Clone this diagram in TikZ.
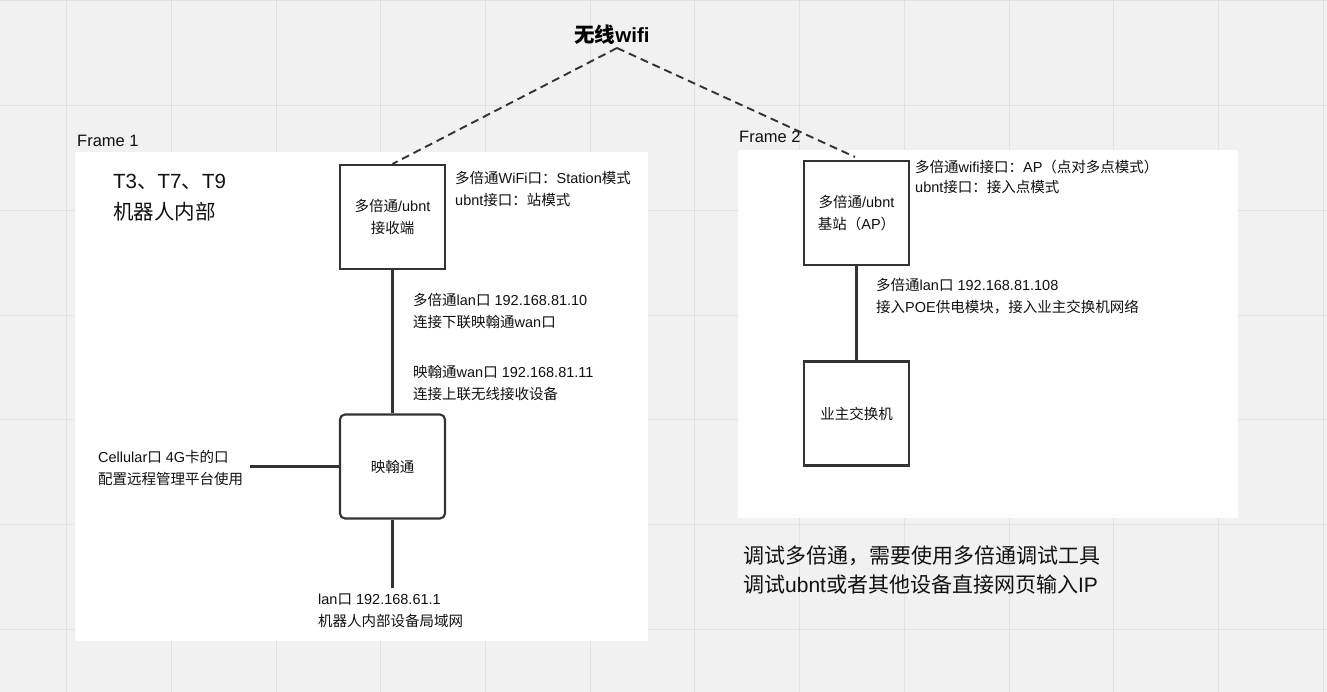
\documentclass[tikz,border=0pt]{standalone}
\usepackage{fontspec}
\setmainfont{Liberation Sans}
\newfontfamily\cjkfont{Noto Sans CJK SC}
\XeTeXinterchartokenstate=1
\newXeTeXintercharclass\cjkcls
\newcount\cjkcnt
\def\setcjkrange#1#2{\cjkcnt=#1\relax\loop\XeTeXcharclass\cjkcnt=\cjkcls\advance\cjkcnt by 1\relax\ifnum\cjkcnt<#2\relax\repeat}
\setcjkrange{"3000}{"3040}
\setcjkrange{"4E00}{"A000}
\setcjkrange{"FF00}{"FF61}
\XeTeXinterchartoks 0 \cjkcls = {\cjkfont}
\XeTeXinterchartoks 4095 \cjkcls = {\cjkfont}
\XeTeXinterchartoks \cjkcls 0 = {\rmfamily}
\XeTeXinterchartoks \cjkcls 4095 = {\rmfamily}
\definecolor{bgc}{HTML}{F1F1F1}
\definecolor{gridc}{HTML}{E2E2E2}
\definecolor{linec}{HTML}{333333}
\definecolor{txtc}{HTML}{111111}
\begin{document}
\begin{tikzpicture}[x=1pt,y=-1pt,
  box/.style={draw=linec, line width=2.1pt, fill=white, minimum width=105pt, minimum height=104pt,
    inner sep=0pt, align=center, text=txtc, font=\fontsize{14.5}{22}\selectfont},
  lbl/.style={anchor=west, align=left, inner sep=0pt, text=txtc, font=\fontsize{14.5}{22}\selectfont},
  biglbl/.style={anchor=west, align=left, inner sep=0pt, text=txtc, font=\fontsize{21}{29}\selectfont},
  framelbl/.style={anchor=west, inner sep=0pt, text=txtc, font=\fontsize{16.5}{20}\selectfont},
  conn/.style={draw=linec, line width=2.1pt},
  wl/.style={draw=linec, line width=1.9pt, dash pattern=on 8pt off 5pt},
  framebox/.style={fill=white, draw=none, inner sep=0pt, anchor=north west}]
\useasboundingbox (0,0) rectangle (1327,692);
\fill[bgc] (0,0) rectangle (1327,692);
\foreach \i in {0,...,12} {\draw[gridc, line width=1pt] ({66.7+104.7*\i},0) -- ({66.7+104.7*\i},692);}
\foreach \j in {0,...,6} {\draw[gridc, line width=1pt] (0,{1+104.67*\j}) -- (1327,{1+104.67*\j});}

% frames
\node[framebox, minimum width=573pt, minimum height=489pt] (frame1) at (75,152) {};
\node[framebox, minimum width=500pt, minimum height=368pt] (frame2) at (738,150) {};
\node[framelbl] (f1lbl) at (77,141) {Frame 1};
\node[framelbl] (f2lbl) at (739,137) {Frame 2};

% title
\node[inner sep=0pt, text=black, font=\fontsize{20.5}{24}\selectfont\bfseries] (wifi) at (612,35) {无线wifi};
\coordinate (apex) at (617,48);

% nodes
\node[box] (ubnt1) at (392.5,217) {多倍通/ubnt\\接收端};
\node[box, rounded corners=5pt] (yht) at (392.5,466.5) {映翰通};
\node[box] (ubnt2) at (856.5,213) {多倍通/ubnt\\基站（AP）};
\node[box] (sw) at (856.5,413.5) {业主交换机};

\coordinate (cell) at (250,466.5);
\coordinate (lanend) at (392.5,588);
\coordinate (ap2) at (855,157);

% connectors
\draw[conn] (ubnt1) -- (yht);
\draw[conn] (cell) -- (yht.west);
\draw[conn] (yht) -- (lanend);
\draw[conn] (ubnt2) -- (sw);
\draw[wl] (apex) -- (ubnt1.north);
\draw[wl] (apex) -- (ap2);

% labels
\node[biglbl, font=\fontsize{20.5}{31}\selectfont] (tlbl) at (113,198) {T3、T7、T9\\机器人内部};
\node[lbl] (l1) at (455,189) {多倍通WiFi口：Station模式\\ubnt接口：站模式};
\node[lbl] (l2) at (413,311) {多倍通lan口 192.168.81.10\\连接下联映翰通wan口};
\node[lbl] (l3) at (413,383.5) {映翰通wan口 192.168.81.11\\连接上联无线接收设备};
\node[lbl] (l4) at (98,467.5) {Cellular口 4G卡的口\\配置远程管理平台使用};
\node[lbl] (l5) at (318,611) {lan口 192.168.61.1\\机器人内部设备局域网};
\node[lbl, font=\fontsize{14.5}{20.5}\selectfont] (l6) at (915,177) {多倍通wifi接口：AP（点对多点模式）\\ubnt接口：接入点模式};
\node[lbl] (l7) at (876,296) {多倍通lan口 192.168.81.108\\接入POE供电模块，接入业主交换机网络};
\node[biglbl] (note) at (743,569.5) {调试多倍通，需要使用多倍通调试工具\\调试ubnt或者其他设备直接网页输入IP};
\end{tikzpicture}
\end{document}
